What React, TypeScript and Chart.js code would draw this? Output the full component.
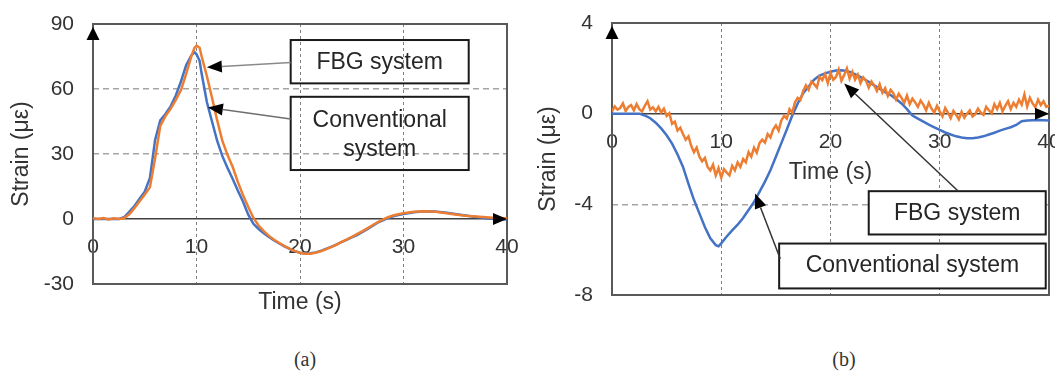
import React, { useEffect, useRef } from "react";
import { Chart, registerables } from "chart.js";

Chart.register(...registerables);

// ---------------- data ----------------
// Panel (a): time (s) and strain (µε)
const timeA = [
  0, 0.5, 1, 1.5, 2, 2.5, 3, 3.5, 4, 4.5, 5, 5.5, 6, 6.5, 7, 7.5, 8, 8.5, 9, 9.5,
  9.8, 10, 10.3,
  10.5, 11, 11.5, 12, 12.5, 13, 13.5, 14, 14.5, 15, 15.5, 16, 16.5, 17, 17.5, 18, 18.5, 19, 19.5,
  20, 20.5, 21, 21.5, 22, 22.5, 23, 23.5, 24, 24.5, 25, 25.5, 26, 26.5, 27, 27.5, 28, 28.5, 29, 29.5,
  30, 31, 32, 33, 34, 35, 36, 37, 38, 39, 40,
];
const conventionalA = [
  0, 0, 0, 0, 0, 0, 0.8, 3.3, 6, 9.3, 12.6, 19, 36.5, 45.5, 48.5, 52, 57, 63.5, 71, 75.5,
  77, 76, 73,
  67, 54, 45, 36, 29, 23.5, 18.5, 13, 8, 2, -2.2, -4.6, -6.6, -8.3, -9.9, -11.3, -12.6, -13.8, -14.8,
  -15.6, -15.9, -15.8, -15.4, -14.7, -13.8, -12.9, -11.8, -10.7, -9.6, -8.5, -7.4, -6.1, -4.7, -3.2, -1.7, -0.6, 0.4, 1.2, 1.8,
  2.3, 3.1, 3.6, 3.5, 3.0, 2.3, 1.6, 0.9, 0.3, -0.1, -0.2,
];
const fbgA = [
  0.3, 0, 0.4, -0.2, 0.3, 0, 0.3, 2.2, 5, 8.2, 11.3, 14.6, 28, 43, 47.5, 50.8, 55, 59.5, 67, 75,
  79, 80, 79,
  75, 66, 56, 45.5, 36, 29.5, 24, 17, 11, 5.5, 0.5, -3, -5.6, -7.8, -9.6, -11.1, -12.5, -13.7, -14.8,
  -15.6, -16, -16, -15.6, -14.9, -14, -13, -11.9, -10.7, -9.5, -8.3, -7, -5.7, -4.3, -2.9, -1.5, -0.3, 0.8, 1.6, 2.2,
  2.7, 3.3, 3.6, 3.4, 2.8, 2.1, 1.5, 1.1, 0.8, 0.5, 0.3,
];

// Panel (b): conventional system (time, strain)
const timeConvB = [
  0, 1, 2, 2.5, 3, 3.5, 4, 4.5, 5, 5.5, 6, 6.5, 7, 7.5, 8, 8.5, 9, 9.5, 9.75, 10,
  10.5, 11, 11.5, 12, 12.5, 13, 13.5, 14, 14.5, 15, 15.5, 16, 16.5, 17, 17.5, 18, 18.5, 19, 19.5, 20,
  20.5, 21, 21.5, 22, 22.5, 23, 23.5, 24, 24.5, 25, 25.5, 26, 26.5, 27, 27.5, 28, 28.5, 29, 29.5, 30,
  30.5, 31, 31.5, 32, 32.5, 33, 33.5, 34, 34.5, 35, 35.5, 36, 36.5, 37, 37.5, 38, 39, 40,
];
const conventionalB = [
  0, 0, 0, 0, -0.08, -0.2, -0.4, -0.65, -0.95, -1.32, -1.8, -2.35, -3.1, -3.8, -4.4, -5.0, -5.5, -5.8, -5.85, -5.72,
  -5.42, -5.15, -4.9, -4.6, -4.25, -3.9, -3.45, -3.0, -2.5, -1.9, -1.3, -0.7, -0.08, 0.45, 0.9, 1.2, 1.5, 1.68, 1.78, 1.85,
  1.9, 1.92, 1.88, 1.8, 1.68, 1.55, 1.4, 1.25, 1.1, 0.95, 0.82, 0.65, 0.45, 0.2, -0.08, -0.22, -0.35, -0.48, -0.6, -0.72,
  -0.83, -0.92, -1.0, -1.05, -1.08, -1.08, -1.05, -1.0, -0.92, -0.84, -0.75, -0.67, -0.6, -0.5, -0.33, -0.3, -0.28, -0.3,
];

// Panel (b): FBG system, sampled every 0.25 s from 0 to 40 s
const FBG_B_STEP = 0.25;
const fbgB = [
  0.1, 0.32, 0.18, 0.25, 0.45, 0.12, 0.3, 0.38,
  0.15, 0.42, 0.2, 0.1, 0.35, 0.55, 0.18, 0.28,
  0.1, 0.3, 0.05, 0.22, -0.1, 0.02, -0.45, -0.35,
  -0.75, -0.62, -0.9, -1.15, -1.0, -1.42, -1.7, -1.5,
  -1.9, -2.1, -1.95, -2.35, -2.5, -2.25, -2.72, -2.4,
  -2.82, -2.45, -2.6, -2.72, -2.3, -2.5, -2.15, -2.35,
  -2.0, -2.15, -1.7, -1.9, -1.5, -1.72, -1.3, -1.15,
  -1.28, -0.9, -1.05, -0.7, -0.52, -0.75, -0.3, -0.1,
  -0.22, 0.2, 0.05, 0.5, 0.7, 0.6, 1.0, 1.25,
  1.05, 1.42, 1.3, 1.15, 1.62, 1.48, 1.75, 1.35,
  1.8, 1.5, 1.62, 1.95, 1.45, 1.7, 2.0, 1.55,
  1.85, 1.5, 1.72, 1.35, 1.6, 1.45, 1.15, 1.42,
  1.25, 1.0, 1.3, 0.92, 1.12, 0.78, 1.05, 0.9,
  0.62, 0.88, 0.7, 0.48, 0.8, 0.42, 0.66, 0.5,
  0.3, 0.58, 0.4, 0.15, 0.48, 0.22, 0.05, 0.35,
  0.1, -0.12, 0.25, 0.05, -0.2, 0.12, -0.05, -0.25,
  0.08, -0.18, 0.0, 0.15, -0.12, -0.02, 0.22, 0.05,
  -0.05, 0.3, 0.15, 0.02, 0.42, 0.2, 0.48, 0.1,
  0.35, 0.55, 0.2, 0.48, 0.3, 0.62, 0.4, 0.85,
  0.32, 0.7, 0.45, 0.28, 0.62, 0.38, 0.55, 0.3,
  0.35,
];

// Axis settings
const xRange = { min: 0, max: 40, step: 10 };
const yRangeA = { min: -30, max: 90, step: 30 };
const yRangeB = { min: -8, max: 4, step: 4 };
const gridYA = [30, 60];
const gridYB = [-4];

const X_TITLE = "Time (s)";
const Y_TITLE = "Strain (με)";
const SERIES_FBG = "FBG system";
const SERIES_CONV = "Conventional system";

// Callouts (positions in data units)
const calloutsA = [
  {
    box: [19.1, 82.6, 36.3, 62.6],
    lines: [{ text: "FBG system", x: 27.7, y: 72.2 }],
    from: [19.1, 72.2],
    to: [11.0, 70.0],
    fill: false,
    lineColor: "#8a8a8a",
  },
  {
    box: [19.1, 56.4, 36.3, 22.6],
    lines: [
      { text: "Conventional", x: 27.7, y: 45.2 },
      { text: "system", x: 27.7, y: 31.8 },
    ],
    from: [19.1, 46.1],
    to: [11.1, 51.5],
    fill: false,
    lineColor: "#6f6f6f",
  },
];
const calloutsB = [
  {
    box: [23.5, -3.42, 39.7, -5.33],
    lines: [{ text: "FBG system", x: 31.6, y: -4.4 }],
    from: [31.7, -3.42],
    to: [21.25, 1.33],
    fill: true,
    lineColor: "#333333",
  },
  {
    box: [15.3, -5.73, 39.7, -7.71],
    lines: [{ text: "Conventional system", x: 27.5, y: -6.72 }],
    from: [15.4, -6.4],
    to: [13.1, -3.52],
    fill: true,
    lineColor: "#333333",
  },
];

// ---------------- styles ----------------
const FONT = '"Liberation Sans", Arial, Helvetica, sans-serif';
const BLUE = "#4472C4";
const ORANGE = "#ED7D31";
const TEXT = "#333333";

function drawHead(ctx: CanvasRenderingContext2D, fx: number, fy: number, tx: number, ty: number, len: number, half: number) {
  const ang = Math.atan2(ty - fy, tx - fx);
  const bx = tx - len * Math.cos(ang);
  const by = ty - len * Math.sin(ang);
  const px = -Math.sin(ang) * half;
  const py = Math.cos(ang) * half;
  ctx.beginPath();
  ctx.moveTo(tx, ty);
  ctx.lineTo(bx + px, by + py);
  ctx.lineTo(bx - px, by - py);
  ctx.closePath();
  ctx.fill();
  return [bx, by];
}

function makePlugin(callouts: any[]) {
  return {
    id: "frameAndCallouts",
    beforeDatasetsDraw(chart: any) {
      const { ctx, chartArea: a } = chart;
      ctx.save();
      ctx.strokeStyle = "#595959";
      ctx.lineWidth = 2;
      ctx.strokeRect(a.left, a.top, a.right - a.left, a.bottom - a.top);
      ctx.restore();
    },
    afterDraw(chart: any) {
      const { ctx, chartArea: a, scales } = chart;
      const xs = scales.x;
      const ys = scales.y;
      const zero = ys.getPixelForValue(0);
      ctx.save();
      // axis arrows
      ctx.fillStyle = "#000";
      drawHead(ctx, a.left, a.top + 20, a.left, a.top + 3, 13, 6.5);
      drawHead(ctx, a.right - 20, zero, a.right, zero, 14, 6);

      for (const c of callouts) {
        const x1 = xs.getPixelForValue(c.box[0]);
        const y1 = ys.getPixelForValue(c.box[1]);
        const x2 = xs.getPixelForValue(c.box[2]);
        const y2 = ys.getPixelForValue(c.box[3]);
        if (c.fill) {
          ctx.fillStyle = "#fff";
          ctx.fillRect(x1, y1, x2 - x1, y2 - y1);
        }
        ctx.strokeStyle = "#1a1a1a";
        ctx.lineWidth = 2;
        ctx.strokeRect(x1, y1, x2 - x1, y2 - y1);
        ctx.fillStyle = "#262626";
        ctx.font = `23px ${FONT}`;
        ctx.textAlign = "center";
        ctx.textBaseline = "middle";
        for (const l of c.lines) {
          ctx.fillText(l.text, xs.getPixelForValue(l.x), ys.getPixelForValue(l.y));
        }
        const fx = xs.getPixelForValue(c.from[0]);
        const fy = ys.getPixelForValue(c.from[1]);
        const tx = xs.getPixelForValue(c.to[0]);
        const ty = ys.getPixelForValue(c.to[1]);
        ctx.fillStyle = "#000";
        const [bx, by] = drawHead(ctx, fx, fy, tx, ty, 15, 6);
        ctx.strokeStyle = c.lineColor;
        ctx.lineWidth = 1.5;
        ctx.beginPath();
        ctx.moveTo(fx, fy);
        ctx.lineTo(bx, by);
        ctx.stroke();
      }
      ctx.restore();
    },
  };
}

function xScale(titleInside: boolean) {
  return {
    type: "linear",
    min: xRange.min,
    max: xRange.max,
    position: { y: 0 },
    afterFit: (s: any) => {
      s.paddingLeft = 0;
      s.paddingRight = 0;
      if (titleInside) s.height = 73;
    },
    ticks: {
      stepSize: xRange.step,
      font: { family: FONT, size: 21 },
      color: TEXT,
      padding: 16,
      maxRotation: 0,
      autoSkip: false,
    },
    grid: {
      drawTicks: false,
      lineWidth: 1,
      color: (c: any) =>
        c.tick && (c.tick.value === xRange.min || c.tick.value === xRange.max) ? "rgba(0,0,0,0)" : "#7f7f7f",
    },
    border: { display: true, color: "#404040", width: 1.5, dash: [3, 3] },
    title: {
      display: titleInside,
      text: X_TITLE,
      font: { family: FONT, size: 23 },
      color: TEXT,
      padding: { top: 0, bottom: 0 },
    },
  };
}

function yScale(range: any, grids: number[], width: number) {
  return {
    type: "linear",
    min: range.min,
    max: range.max,
    position: "left",
    afterFit: (s: any) => {
      s.width = width;
      s.paddingTop = 0;
      s.paddingBottom = 0;
    },
    ticks: {
      stepSize: range.step,
      font: { family: FONT, size: 21 },
      color: TEXT,
      padding: 19,
    },
    grid: {
      drawTicks: false,
      lineWidth: 1.5,
      color: (c: any) => (c.tick && grids.includes(c.tick.value) ? "#a6a6a6" : "rgba(0,0,0,0)"),
    },
    border: { display: false, dash: [6, 4] },
    title: {
      display: true,
      text: Y_TITLE,
      font: { family: FONT, size: 23 },
      color: TEXT,
      padding: { top: 8, bottom: 0 },
    },
  };
}

function line(label: string, data: any[], color: string) {
  return {
    type: "line",
    label,
    data,
    borderColor: color,
    backgroundColor: color,
    borderWidth: 2.5,
    pointRadius: 0,
    tension: 0,
    fill: false,
    xAxisID: "x",
    yAxisID: "y",
  };
}

function configA(): any {
  return {
    type: "line",
    data: {
      datasets: [
        // first dataset is drawn on top
        line(SERIES_FBG, timeA.map((t, i) => ({ x: t, y: fbgA[i] })), ORANGE),
        line(SERIES_CONV, timeA.map((t, i) => ({ x: t, y: conventionalA[i] })), BLUE),
      ],
    },
    options: {
      responsive: false,
      animation: false,
      layout: { padding: { left: 0, right: 20, top: 24, bottom: 0 } },
      plugins: { legend: { display: false }, tooltip: { enabled: false } },
      scales: {
        x: xScale(false),
        x2: {
          type: "linear",
          axis: "x",
          min: xRange.min,
          max: xRange.max,
          position: "bottom",
          grid: { display: false, drawTicks: false },
          border: { display: false },
          ticks: { display: false },
          afterFit: (s: any) => {
            s.height = 46;
            s.paddingLeft = 0;
            s.paddingRight = 0;
          },
          title: {
            display: true,
            text: X_TITLE,
            font: { family: FONT, size: 23 },
            color: TEXT,
            padding: { top: 0, bottom: 14 },
          },
        },
        y: yScale(yRangeA, gridYA, 93),
      },
    },
    plugins: [makePlugin(calloutsA)],
  };
}

function configB(): any {
  return {
    type: "line",
    data: {
      datasets: [
        line(SERIES_FBG, fbgB.map((v, i) => ({ x: i * FBG_B_STEP, y: v })), ORANGE),
        line(SERIES_CONV, timeConvB.map((t, i) => ({ x: t, y: conventionalB[i] })), BLUE),
      ],
    },
    options: {
      responsive: false,
      animation: false,
      layout: { padding: { left: 0, right: 18, top: 23, bottom: 35 } },
      plugins: { legend: { display: false }, tooltip: { enabled: false } },
      scales: {
        x: xScale(true),
        y: yScale(yRangeB, gridYB, 85),
      },
    },
    plugins: [makePlugin(calloutsB)],
  };
}

function Panel({ left, width, height, make }: { left: number; width: number; height: number; make: () => any }) {
  const ref = useRef<HTMLCanvasElement | null>(null);
  useEffect(() => {
    if (!ref.current) return;
    const chart = new Chart(ref.current, make());
    return () => chart.destroy();
  }, []);
  return (
    <canvas
      ref={ref}
      width={width}
      height={height}
      style={{ position: "absolute", left, top: 0, width, height }}
    />
  );
}

const captionStyle: React.CSSProperties = {
  position: "absolute",
  top: 346,
  width: 60,
  textAlign: "center",
  fontFamily: '"Liberation Serif", "DejaVu Serif", serif',
  fontSize: 20,
  color: "#333",
  lineHeight: "26px",
};

export default function App() {
  return (
    <div
      style={{
        position: "fixed",
        left: 0,
        top: 0,
        width: 1055,
        height: 372,
        overflow: "hidden",
        background: "#fff",
      }}
    >
      <Panel left={0} width={527} height={330} make={configA} />
      <Panel left={527} width={540} height={330} make={configB} />
      <div style={{ ...captionStyle, left: 305 - 30 }}>(a)</div>
      <div style={{ ...captionStyle, left: 844 - 30 }}>(b)</div>
    </div>
  );
}
